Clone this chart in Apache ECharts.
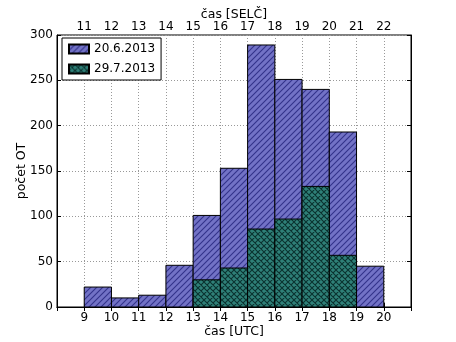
<!DOCTYPE html>
<html>
<head>
    <meta charset="utf-8">
    <title>pocet OT</title>
    <script src="https://cdn.jsdelivr.net/npm/echarts@6/dist/echarts.min.js"></script>
    <style>
        body{ margin:0; background:#fff; }
        #main{ width:456px; height:342px; }
    </style>
</head>
<body>
<div id="main"></div>
<script>
    // hodiny UTC (zacatek intervalu) a pocty
    var hours1 = [9, 10, 11, 12, 13, 14, 15, 16, 17, 18, 19];
    var counts1 = [22, 10, 13, 46, 101, 153, 289, 251, 240, 193, 45];
    var hours2 = [13, 14, 15, 16, 17, 18];
    var counts2 = [30, 43, 86, 97, 133, 57];
    var names = ['20.6.2013', '29.7.2013'];

    // srafovani jako v matplotlibu
    function hatch(bg, fg, cross) {
        var s = 6;
        var c = document.createElement('canvas');
        c.width = s; c.height = s;
        var ctx = c.getContext('2d');
        ctx.fillStyle = bg;
        ctx.fillRect(0, 0, s, s);
        ctx.strokeStyle = fg;
        ctx.lineWidth = 1.1;
        ctx.beginPath();
        ctx.moveTo(-1, s + 1); ctx.lineTo(s + 1, -1);
        ctx.moveTo(-1, 1); ctx.lineTo(1, -1);
        ctx.moveTo(s - 1, s + 1); ctx.lineTo(s + 1, s - 1);
        if (cross) {
            ctx.moveTo(-1, -1); ctx.lineTo(s + 1, s + 1);
            ctx.moveTo(s - 1, -1); ctx.lineTo(s + 1, 1);
            ctx.moveTo(-1, s - 1); ctx.lineTo(1, s + 1);
        }
        ctx.stroke();
        return { image: c, repeat: 'repeat' };
    }
    var blue = hatch('#7272c6', '#33338a', false);
    var green = hatch('#2f8078', '#0b3230', true);

    function toData(h, v) {
        var out = [];
        for (var i = 0; i < h.length; i++) out.push([h[i], v[i]]);
        return out;
    }

    function renderBar(fill) {
        return function (params, api) {
            var x0 = api.value(0), y = api.value(1);
            var p0 = api.coord([x0, y]);
            var p1 = api.coord([x0 + 1, 0]);
            return {
                type: 'rect',
                shape: { x: p0[0], y: p0[1], width: p1[0] - p0[0], height: p1[1] - p0[1] },
                style: { fill: fill, stroke: '#000', lineWidth: 1 }
            };
        };
    }

    var font = 'DejaVu Sans';
    var myChart = echarts.init(document.getElementById('main'));
    myChart.setOption({
        animation: false,
        textStyle: { fontFamily: font },
        grid: {
            left: 57, right: 45, top: 35, bottom: 35, outerBoundsMode: 'none',
            show: true, borderColor: '#000', borderWidth: 1
        },
        legend: {
            left: 62, top: 38, orient: 'vertical',
            data: names,
            icon: 'rect', itemWidth: 20, itemHeight: 9, itemGap: 8,
            borderColor: '#000', borderWidth: 1, borderRadius: 0,
            padding: [5, 6, 5, 6],
            backgroundColor: '#fff',
            textStyle: { fontFamily: font, fontSize: 12, color: '#000' }
        },
        xAxis: [{
            type: 'value', position: 'bottom', min: 8, max: 21, interval: 1,
            name: 'čas [UTC]', nameLocation: 'middle', nameGap: 18, nameMoveOverlap: false,
            nameTextStyle: { fontSize: 12.5, color: '#000' },
            axisLine: { lineStyle: { color: '#000' } },
            axisTick: { inside: true, length: 4, lineStyle: { color: '#000' } },
            axisLabel: {
                color: '#000', fontSize: 12, margin: 5,
                formatter: function (v) { return (v < 9 || v > 20) ? '' : v; }
            },
            splitLine: { show: true, lineStyle: { color: '#999', type: [1, 2] } }
        }, {
            type: 'value', position: 'top', min: 10, max: 23, interval: 1,
            name: 'čas [SELČ]', nameLocation: 'middle', nameGap: 14, nameMoveOverlap: false,
            nameTextStyle: { fontSize: 12.5, color: '#000' },
            axisLine: { lineStyle: { color: '#000' } },
            axisTick: { inside: true, length: 4, lineStyle: { color: '#000' } },
            axisLabel: {
                color: '#000', fontSize: 12, margin: 2,
                formatter: function (v) { return (v < 11 || v > 22) ? '' : v; }
            },
            splitLine: { show: false }
        }],
        yAxis: [{
            type: 'value', min: 0, max: 300, interval: 50,
            name: 'počet OT', nameLocation: 'middle', nameGap: 29, nameMoveOverlap: false,
            nameTextStyle: { fontSize: 12.5, color: '#000' },
            axisLine: { show: true, lineStyle: { color: '#000' } },
            axisTick: { show: true, inside: true, length: 4, lineStyle: { color: '#000' } },
            axisLabel: { color: '#000', fontSize: 12, margin: 4 },
            splitLine: { show: true, lineStyle: { color: '#999', type: [1, 2] } }
        }, {
            type: 'value', min: 0, max: 300, interval: 50, position: 'right',
            axisLine: { show: true, lineStyle: { color: '#000' } },
            axisTick: { show: true, inside: true, length: 4, lineStyle: { color: '#000' } },
            axisLabel: { show: false },
            splitLine: { show: false }
        }],
        series: [{
            name: names[0], type: 'custom', xAxisIndex: 0, yAxisIndex: 0,
            itemStyle: { color: blue, borderColor: '#000', borderWidth: 1 },
            renderItem: renderBar(blue),
            encode: { x: 0, y: 1 },
            data: toData(hours1, counts1)
        }, {
            name: names[1], type: 'custom', xAxisIndex: 0, yAxisIndex: 0,
            itemStyle: { color: green, borderColor: '#000', borderWidth: 1 },
            renderItem: renderBar(green),
            encode: { x: 0, y: 1 },
            data: toData(hours2, counts2)
        }]
    });
</script>
</body>
</html>
